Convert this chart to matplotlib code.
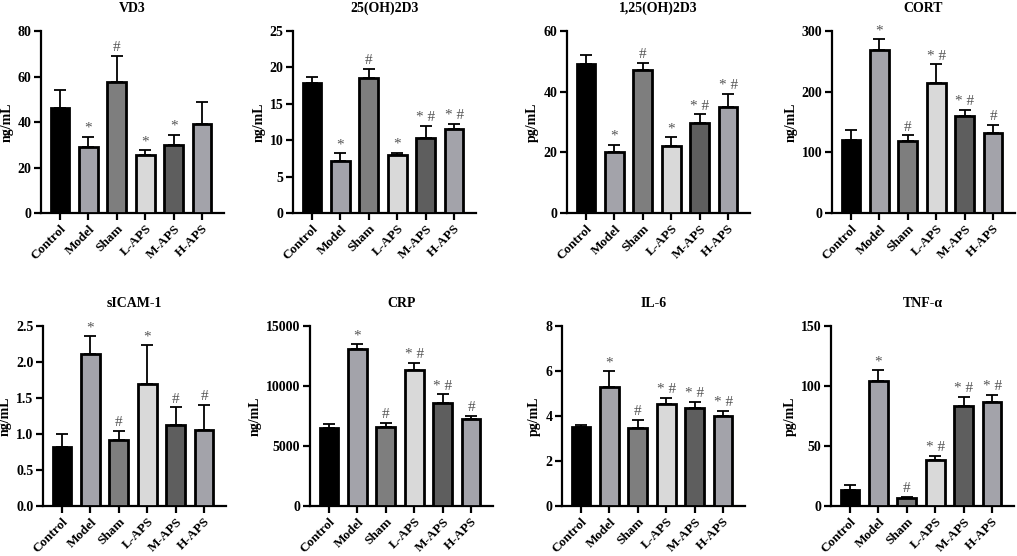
import numpy as np
import matplotlib
matplotlib.use("Agg")
from matplotlib import pyplot as plt

plt.rcParams['font.family'] = ['Liberation Serif', 'DejaVu Serif']
plt.rcParams['font.weight'] = 'bold'

groups = ["Control", "Model", "Sham", "L-APS", "M-APS", "H-APS"]
bar_colors = ["#000000", "#a3a3aa", "#7e7e7e", "#d9d9d9", "#5e5e5e", "#a3a3aa"]

titles = ["VD3", "25(OH)2D3", "1,25(OH)2D3", "CORT",
          "sICAM-1", "CRP", "IL-6", "TNF-\u03b1"]
units = ["ng/mL", "ng/mL", "pg/mL", "ng/mL",
         "ng/mL", "ng/mL", "pg/mL", "pg/mL"]

vd3 = [46, 29, 57.5, 25.5, 30, 39]
vd3_err = [8, 4.5, 11.5, 2, 4.5, 10]
oh25 = [17.8, 7.1, 18.5, 7.9, 10.3, 11.5]
oh25_err = [0.9, 1.1, 1.3, 0.4, 1.7, 0.7]
oh125 = [49, 20, 47, 22, 29.8, 35]
oh125_err = [3, 2.5, 2.5, 3, 2.7, 4.3]
cort = [120, 268, 119, 215, 160, 132]
cort_err = [17, 19, 9, 30, 10, 13]
sicam = [0.82, 2.11, 0.91, 1.70, 1.13, 1.05]
sicam_err = [0.18, 0.25, 0.13, 0.53, 0.24, 0.35]
crp = [6500, 13100, 6600, 11300, 8600, 7250]
crp_err = [350, 400, 350, 650, 700, 250]
il6 = [3.5, 5.3, 3.48, 4.53, 4.35, 4.0]
il6_err = [0.12, 0.7, 0.35, 0.29, 0.27, 0.22]
tnf = [13, 104, 6.5, 38, 83, 86.5]
tnf_err = [4.5, 9, 1, 3.5, 8, 6]

means = [vd3, oh25, oh125, cort, sicam, crp, il6, tnf]
errors = [vd3_err, oh25_err, oh125_err, cort_err, sicam_err, crp_err, il6_err, tnf_err]

marks = [
    ["", "*", "#", "*", "*", ""],
    ["", "*", "#", "*", "* #", "* #"],
    ["", "*", "#", "*", "* #", "* #"],
    ["", "*", "#", "* #", "* #", "#"],
    ["", "*", "#", "*", "#", "#"],
    ["", "*", "#", "* #", "* #", "#"],
    ["", "*", "#", "* #", "* #", "* #"],
    ["", "*", "#", "* #", "* #", "* #"],
]

yticks = [
    [0, 20, 40, 60, 80],
    [0, 5, 10, 15, 20, 25],
    [0, 20, 40, 60],
    [0, 100, 200, 300],
    [0.0, 0.5, 1.0, 1.5, 2.0, 2.5],
    [0, 5000, 10000, 15000],
    [0, 2, 4, 6, 8],
    [0, 50, 100, 150],
]

W, H = 1017, 556
lefts = [[41, 293, 567, 832], [43, 310, 562, 831]]
tops = [31, 326]
bottoms = [213, 506]
axw = 183

fig = plt.figure(figsize=(W / 100, H / 100), dpi=100)

x = np.arange(len(groups))
for k in range(8):
    r, c = divmod(k, 4)
    ax = fig.add_axes([lefts[r][c] / W, 1 - bottoms[r] / H,
                       axw / W, (bottoms[r] - tops[r]) / H])
    m = np.array(means[k])
    e = np.array(errors[k])
    ax.bar(x, m, width=0.66, color=bar_colors, edgecolor="black",
           linewidth=2, zorder=3)
    ax.errorbar(x, m, yerr=[np.zeros_like(e), e], fmt="none",
                ecolor="black", elinewidth=1.3, capsize=4, capthick=1.3, zorder=2)
    top = yticks[k][-1]
    for i, s in enumerate(marks[k]):
        if s:
            ax.text(x[i], m[i] + e[i] + top * 0.01, s,
                    ha="center", va="bottom", fontsize=11, fontweight="normal",
                    color="#555555")
    ax.set_xlim(-0.67, 5.77)
    ax.set_ylim(0, top)
    ax.set_yticks(yticks[k])
    if k == 4:
        ax.set_yticklabels(["%.1f" % v for v in yticks[k]])
    ax.set_xticks(x)
    ax.set_xticklabels(groups, rotation=45, ha="right", rotation_mode="anchor",
                       fontsize=9.5, fontweight="bold")
    for lab in ax.get_yticklabels():
        lab.set_fontsize(10)
        lab.set_fontweight("bold")
    ax.set_ylabel(units[k], fontsize=10, fontweight="bold", labelpad=3)
    ax.set_title(titles[k], fontsize=10, fontweight="bold", pad=14)
    ax.spines["top"].set_visible(False)
    ax.spines["right"].set_visible(False)
    ax.spines["left"].set_linewidth(1.6)
    ax.spines["bottom"].set_linewidth(1.6)
    ax.tick_params(axis="both", width=1.6, length=5, pad=2)

fig.savefig("out.png", dpi=100)
